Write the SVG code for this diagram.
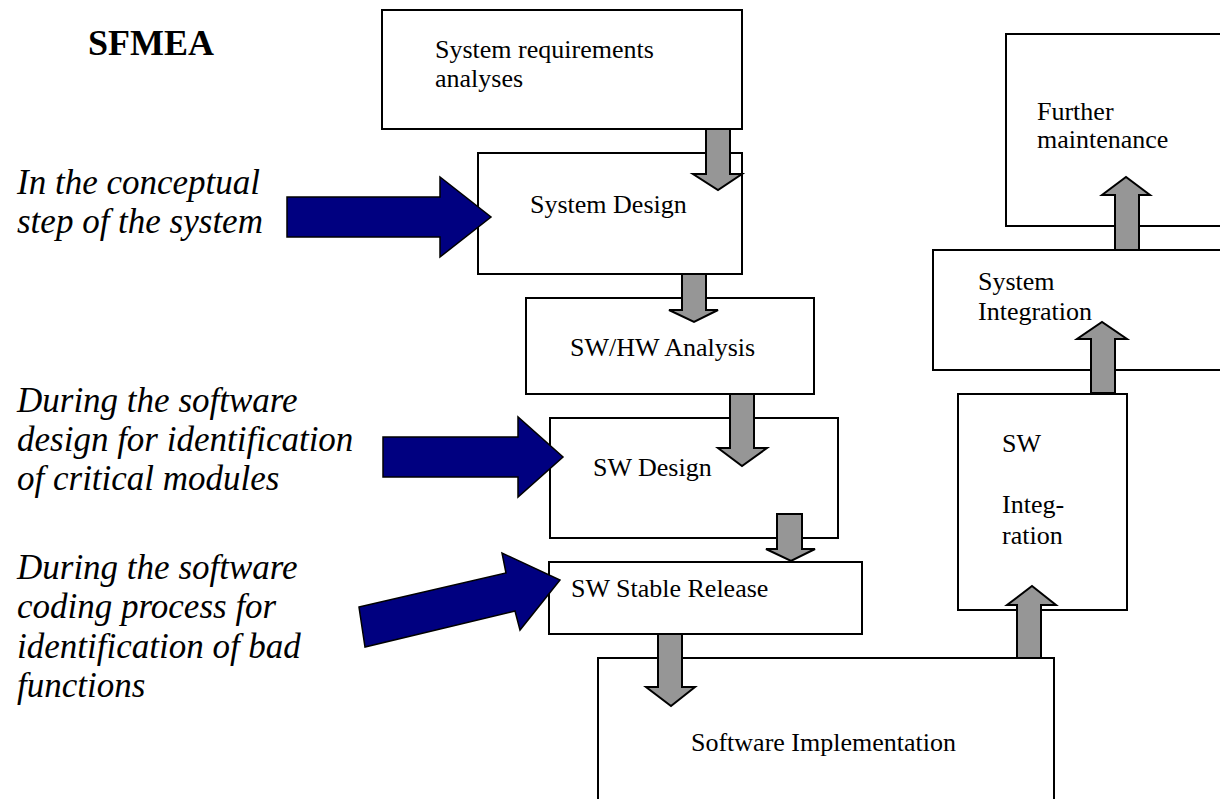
<svg xmlns="http://www.w3.org/2000/svg" width="1220" height="799" viewBox="0 0 1220 799">
<style>
.box{fill:#fff;stroke:#000;stroke-width:2}
.t{font-family:"Liberation Serif","Times New Roman",serif;font-size:26px;fill:#000}
.it{font-family:"Liberation Serif","Times New Roman",serif;font-size:35px;font-style:italic;fill:#000}
.ttl{font-family:"Liberation Serif","Times New Roman",serif;font-size:36px;font-weight:bold;fill:#000}
.ga{fill:#969696;stroke:#000;stroke-width:2;stroke-linejoin:miter}
.ba{fill:#000080;stroke:#000;stroke-width:1.5;stroke-linejoin:miter}
</style>
<rect width="1220" height="799" fill="#fff"/>
<text class="ttl" x="88" y="55">SFMEA</text>
<g id="note1">
<text class="it" x="17" y="194">In the conceptual</text>
<text class="it" x="17" y="233">step of the system</text>
</g>
<g id="note2">
<text class="it" x="17" y="412">During the software</text>
<text class="it" x="17" y="451">design for identification</text>
<text class="it" x="17" y="490">of critical modules</text>
</g>
<g id="note3">
<text class="it" x="17" y="579">During the software</text>
<text class="it" x="17" y="618">coding process for</text>
<text class="it" x="17" y="658">identification of bad</text>
<text class="it" x="17" y="697">functions</text>
</g>
<g id="sysreq">
<rect class="box" x="382" y="10" width="360" height="119"/>
<text class="t" x="435" y="58">System requirements</text>
<text class="t" x="435" y="87">analyses</text>
</g>
<g id="sysdesign">
<rect class="box" x="478" y="153" width="264" height="121"/>
<text class="t" x="530" y="213">System Design</text>
</g>
<g id="swhw">
<rect class="box" x="526" y="298" width="288" height="96"/>
<text class="t" x="570" y="356">SW/HW Analysis</text>
</g>
<g id="swdesign">
<rect class="box" x="550" y="418" width="288" height="120"/>
<text class="t" x="593" y="476">SW Design</text>
</g>
<g id="swstable">
<rect class="box" x="549" y="562" width="313" height="72"/>
<text class="t" x="571" y="597">SW Stable Release</text>
</g>
<g id="swimpl">
<rect class="box" x="598" y="658" width="456" height="160"/>
<text class="t" x="691" y="751">Software Implementation</text>
</g>
<g id="swint">
<rect class="box" x="958" y="394" width="169" height="216"/>
<text class="t" x="1002" y="452">SW</text>
<text class="t" x="1002" y="513">Integ-</text>
<text class="t" x="1002" y="544">ration</text>
</g>
<g id="sysint">
<rect class="box" x="933" y="250" width="300" height="120"/>
<text class="t" x="978" y="290">System</text>
<text class="t" x="978" y="320">Integration</text>
</g>
<g id="maint">
<rect class="box" x="1006" y="34" width="230" height="192"/>
<text class="t" x="1037" y="120">Further</text>
<text class="t" x="1037" y="148">maintenance</text>
</g>
<g id="connectors">
<polygon class="ga" points="706,129 730,129 730,174 742,174 718,190 693,174 706,174"/>
<polygon class="ga" points="682,274 706,274 706,310 718,310 694,322 669,310 682,310"/>
<polygon class="ga" points="730,394 754,394 754,448 767,448 742,466 718,448 730,448"/>
<polygon class="ga" points="777,514 802,514 802,549 815,549 791,561 766,549 777,549"/>
<polygon class="ga" points="658,634 682,634 682,687 695,687 671,706 646,687 658,687"/>
<polygon class="ga" points="1017,658 1041,658 1041,605 1056,605 1032,586 1007,605 1017,605"/>
<polygon class="ga" points="1091,393 1115,393 1115,339 1127,339 1102,322 1077,339 1091,339"/>
<polygon class="ga" points="1115,250 1139,250 1139,195 1150,195 1126,177 1102,195 1115,195"/>
<polygon class="ba" points="287,197 440,197 440,177 491,217 440,257 440,237 287,237"/>
<polygon class="ba" points="383,437 518,437 518,417 563,457 518,497 518,477 383,477"/>
<polygon class="ba" points="359,607 506,573 502,553 560,580 520,630 515,611 365,647"/>
</g>
</svg>
